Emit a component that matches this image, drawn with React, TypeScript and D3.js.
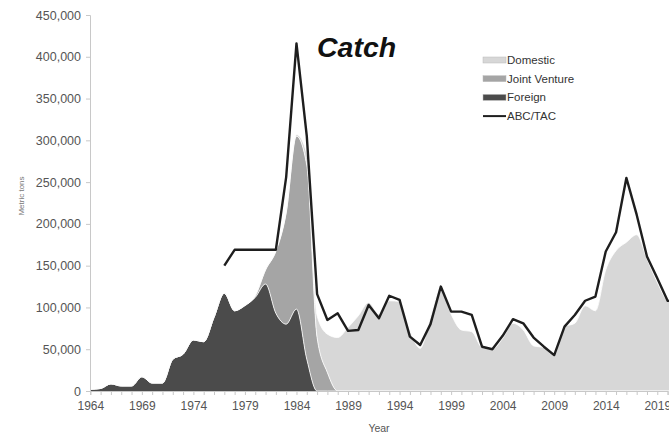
import * as d3 from 'd3'
import {useRef, useEffect} from 'react'

const years: number[] = d3.range(1964, 2022)

// catch by sector, one value per year 1964..2021
const foreign: number[] = [
  2000, 3000, 8500, 6000, 6000, 17000, 9500, 9500, 38000, 44000,
  61000, 59000, 88000, 117000, 96000, 102000, 112000, 128000, 93000, 80000,
  98000, 38000, 0, 0, 0, 0, 0, 0, 0, 0,
  0, 0, 0, 0, 0, 0, 0, 0, 0, 0,
  0, 0, 0, 0, 0, 0, 0, 0, 0, 0,
  0, 0, 0, 0, 0, 0, 0, 0
]
const jointVenture: number[] = [
  0, 0, 0, 0, 0, 0, 0, 0, 0, 0,
  0, 0, 0, 0, 0, 600, 2000, 17000, 74000, 133000,
  207000, 232000, 64000, 22000, 0, 0, 0, 0, 0, 0,
  0, 0, 0, 0, 0, 0, 0, 0, 0, 0,
  0, 0, 0, 0, 0, 0, 0, 0, 0, 0,
  0, 0, 0, 0, 0, 0, 0, 0
]
const domestic: number[] = [
  0, 0, 0, 0, 0, 0, 0, 0, 0, 0,
  0, 0, 0, 0, 0, 0, 0, 0, 1000, 1000,
  2000, 14000, 26000, 46000, 64000, 76000, 90000, 106000, 92000, 108000,
  107000, 72000, 51000, 88000, 124000, 92000, 73000, 71000, 52000, 50000,
  63000, 81000, 73000, 54000, 52000, 44000, 77000, 81000, 102000, 96000,
  145000, 168000, 178000, 187000, 158000, 130000, 107000, 100000
]

// ABC/TAC from 1977
const tacYears: number[] = d3.range(1977, 2022)
const tac: number[] = [
  150000, 169000, 169000, 169000, 169000, 169000, 256000, 416000, 305000, 116000,
  85000, 93000, 72000, 73000, 103000, 87000, 114000, 109000, 65000, 55000,
  80000, 125000, 95000, 95000, 91000, 53000, 50000, 66000, 86000, 81000,
  64000, 53000, 43000, 77000, 91000, 108000, 113000, 167000, 190000, 255000,
  211000, 161000, 135000, 108000, 106000
]

const yTicks: number[] = d3.range(0, 450001, 50000)
const xLabelYears: number[] = d3.range(1964, 2021, 5)

const seriesNames: string[] = ['Foreign', 'Joint Venture', 'Domestic']
const seriesColors: string[] = ['#4b4b4b', '#a5a5a5', '#d7d7d7']

const Chart: React.FC = () => {
  const svgRef = useRef(null)
  const svgWidth = 669
  const svgHeight = 437

  const draw = (): void => {
    const SVG = d3.select(svgRef.current)
    SVG.selectAll('*').remove()
    SVG.attr('width', svgWidth).attr('height', svgHeight)

    const xScale = d3.scaleLinear().domain([1964, 2020]).range([90.3, 667.6])
    const yScale = d3.scaleLinear().domain([0, 450000]).range([391, 15])

    const rows = years.map((yr, i) => ({
      year: yr,
      Foreign: foreign[i],
      'Joint Venture': jointVenture[i],
      Domestic: domestic[i]
    }))
    const stacked = d3.stack<any>().keys(seriesNames)(rows)

    const area = d3.area<any>()
      .x(d => xScale(d.data.year))
      .y0(d => yScale(d[0]))
      .y1(d => yScale(d[1]))
      .curve(d3.curveMonotoneX)

    const topLine = d3.line<any>()
      .x(d => xScale(d.data.year))
      .y(d => yScale(d[1]))
      .curve(d3.curveMonotoneX)

    const plot = SVG.append('g')
    stacked.forEach((s, i) => {
      plot.append('path')
        .attr('d', area(s) as string)
        .attr('fill', seriesColors[i])
    })
    stacked.forEach(s => {
      plot.append('path')
        .attr('d', topLine(s) as string)
        .attr('fill', 'none')
        .attr('stroke', '#ffffff')
        .attr('stroke-width', 1)
        .attr('opacity', 0.8)
    })

    const tacLine = d3.line<number>()
      .x((d, i) => xScale(tacYears[i]))
      .y(d => yScale(d))
    plot.append('path')
      .attr('d', tacLine(tac) as string)
      .attr('fill', 'none')
      .attr('stroke', '#1e1e1e')
      .attr('stroke-width', 2.4)
      .attr('stroke-linejoin', 'round')

    // y axis
    const yAxis = d3.axisLeft(yScale)
      .tickValues(yTicks)
      .tickSize(4)
      .tickPadding(5)
      .tickFormat(d => d3.format(',')(d as number))
    const yG = SVG.append('g')
      .attr('transform', 'translate(90,0)')
      .call(yAxis)
    yG.select('.domain').attr('stroke', '#c8c8c8')
    yG.selectAll('line').attr('stroke', '#c8c8c8')
    yG.selectAll('text')
      .attr('fill', '#555')
      .style('font-family', 'Liberation Sans, Arial, sans-serif')
      .style('font-size', '12.5px')

    // x axis, a tick every year and a label every fifth
    const xAxis = d3.axisBottom(xScale)
      .tickValues(years.filter(y => y <= 2020))
      .tickSize(4)
      .tickPadding(6)
      .tickFormat(d => (xLabelYears.includes(d as number) ? String(d) : ''))
    const xG = SVG.append('g')
      .attr('transform', 'translate(0,391)')
      .call(xAxis)
    xG.select('.domain').attr('stroke', '#c8c8c8')
    xG.selectAll('line').attr('stroke', '#c8c8c8')
    xG.selectAll('text')
      .attr('fill', '#555')
      .style('font-family', 'Liberation Sans, Arial, sans-serif')
      .style('font-size', '12px')

    SVG.append('text')
      .attr('x', 379)
      .attr('y', 432)
      .attr('text-anchor', 'middle')
      .attr('fill', '#555')
      .style('font-family', 'Liberation Sans, Arial, sans-serif')
      .style('font-size', '10.5px')
      .text('Year')

    SVG.append('text')
      .attr('transform', 'translate(24,196) rotate(-90)')
      .attr('text-anchor', 'middle')
      .attr('fill', '#777')
      .style('font-family', 'Liberation Sans, Arial, sans-serif')
      .style('font-size', '8px')
      .text('Metric tons')

    SVG.append('text')
      .attr('x', 317)
      .attr('y', 57)
      .attr('fill', '#111')
      .style('font-family', 'Liberation Sans, Arial, sans-serif')
      .style('font-size', '28.5px')
      .style('font-weight', 'bold')
      .style('font-style', 'italic')
      .text('Catch')

    // legend
    const legendItems = [
      {name: 'Domestic', color: seriesColors[2], kind: 'box'},
      {name: 'Joint Venture', color: seriesColors[1], kind: 'box'},
      {name: 'Foreign', color: seriesColors[0], kind: 'box'},
      {name: 'ABC/TAC', color: '#1e1e1e', kind: 'line'}
    ]
    const legend = SVG.append('g').attr('transform', 'translate(483,60)')
    legendItems.forEach((item, i) => {
      const row = legend.append('g').attr('transform', `translate(0,${i * 18.7})`)
      if (item.kind === 'box') {
        row.append('rect')
          .attr('x', 0).attr('y', -3)
          .attr('width', 23).attr('height', 6)
          .attr('fill', item.color)
          .attr('stroke', '#bbb')
          .attr('stroke-width', 0.5)
      } else {
        row.append('line')
          .attr('x1', 0).attr('x2', 23)
          .attr('y1', 0).attr('y2', 0)
          .attr('stroke', item.color)
          .attr('stroke-width', 2)
      }
      row.append('text')
        .attr('x', 24)
        .attr('y', 4)
        .attr('fill', '#333')
        .style('font-family', 'Liberation Sans, Arial, sans-serif')
        .style('font-size', '11.5px')
        .text(item.name)
    })
  }

  useEffect((): void => draw(), [])

  return (
    <svg
      ref={svgRef}
      style={{position: 'absolute', left: 0, top: 0, overflow: 'hidden', background: '#fff'}}
    ></svg>
  )
}

export default function App() {
  return <Chart />
}
